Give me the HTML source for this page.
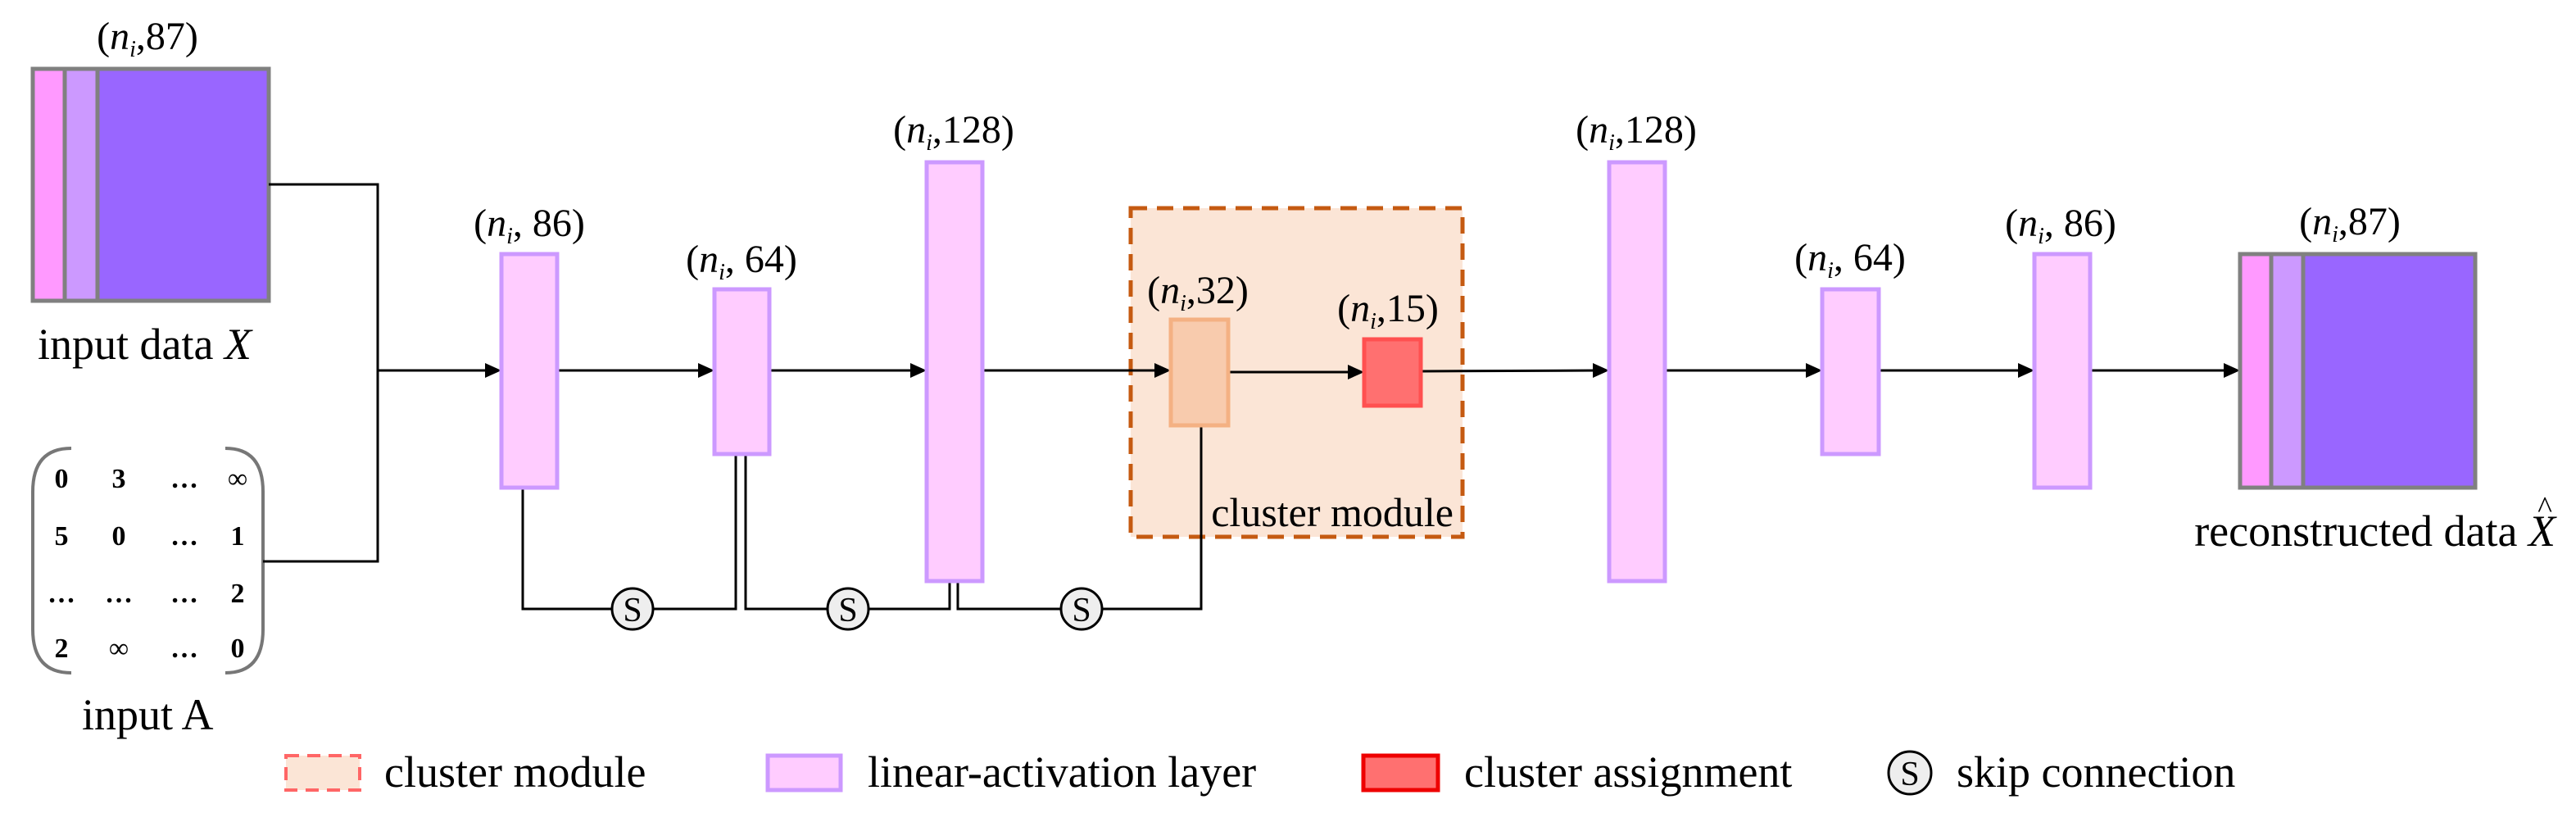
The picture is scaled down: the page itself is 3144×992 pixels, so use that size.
<!DOCTYPE html>
<html><head><meta charset="utf-8"><style>
html,body{margin:0;padding:0;background:#fff;}
svg{display:block;}
text{font-family:"Liberation Serif","DejaVu Serif",serif;fill:#000;}
</style></head><body>
<svg width="3144" height="992" viewBox="0 0 3144 992" xmlns="http://www.w3.org/2000/svg" font-family="Liberation Serif, serif">
<!-- cluster module box -->
<rect x="1380" y="254" width="405" height="401" fill="#fbe5d6" stroke="#c55a11" stroke-width="5" stroke-dasharray="20,12"/>
<text x="1774" y="642" font-size="50" text-anchor="end">cluster  module</text>

<!-- input data -->
<rect x="40" y="84" width="288" height="283" fill="#9966ff" stroke="#808080" stroke-width="5"/>
<rect x="40" y="84" width="39" height="283" fill="#ff99ff" stroke="#808080" stroke-width="5"/>
<rect x="79" y="84" width="40" height="283" fill="#cc99ff" stroke="#808080" stroke-width="5"/>
<text x="46" y="438" font-size="54">input data <tspan font-style="italic">X</tspan></text>

<!-- matrix -->
<path d="M87,547 Q40,547 40,600 L40,768 Q40,821 87,821" fill="none" stroke="#777" stroke-width="4"/>
<path d="M275,547 Q321,547 321,600 L321,768 Q321,821 275,821" fill="none" stroke="#777" stroke-width="4"/>
<g font-size="34" font-weight="bold" text-anchor="middle">
<text x="75" y="595">0</text><text x="145" y="595">3</text><text x="225" y="595">…</text><text x="290" y="595" font-weight="normal">∞</text>
<text x="75" y="665">5</text><text x="145" y="665">0</text><text x="225" y="665">…</text><text x="290" y="665">1</text>
<text x="75" y="735">…</text><text x="145" y="735">…</text><text x="225" y="735">…</text><text x="290" y="735">2</text>
<text x="75" y="802">2</text><text x="145" y="802" font-weight="normal">∞</text><text x="225" y="802">…</text><text x="290" y="802">0</text>
</g>
<text x="100" y="890" font-size="54">input  A</text>

<!-- connectors -->
<g stroke="#000" stroke-width="3" fill="none">
<polyline points="328,225 461,225 461,685 321,685"/>
<line x1="461" y1="452" x2="596" y2="452"/>
<line x1="680" y1="452" x2="858" y2="452"/>
<line x1="939" y1="452" x2="1117" y2="452"/>
<line x1="1199" y1="452" x2="1415" y2="452"/>
<line x1="1499" y1="454" x2="1651" y2="454"/>
<line x1="1734" y1="453" x2="1950" y2="452"/>
<line x1="2032" y1="452" x2="2210" y2="452"/>
<line x1="2293" y1="452" x2="2469" y2="452"/>
<line x1="2551" y1="452" x2="2720" y2="452"/>
<polyline points="638,595 638,743 898,743 898,554"/>
<polyline points="910,554 910,743 1159,743 1159,709"/>
<polyline points="1169,709 1169,743 1466,743 1466,519"/>
</g>
<g fill="#000">
<polygon points="612,452 592,443 592,461"/>
<polygon points="872,452 852,443 852,461"/>
<polygon points="1131,452 1111,443 1111,461"/>
<polygon points="1429,452 1409,443 1409,461"/>
<polygon points="1665,454 1645,445 1645,463"/>
<polygon points="1964,452 1944,443 1944,461"/>
<polygon points="2224,452 2204,443 2204,461"/>
<polygon points="2483,452 2463,443 2463,461"/>
<polygon points="2734,452 2714,443 2714,461"/>
</g>
<g>
<circle cx="772" cy="743" r="25" fill="#eee" stroke="#000" stroke-width="3"/>
<text x="772" y="758" font-size="42" text-anchor="middle">S</text>
<circle cx="1035" cy="743" r="25" fill="#eee" stroke="#000" stroke-width="3"/>
<text x="1035" y="758" font-size="42" text-anchor="middle">S</text>
<circle cx="1320" cy="743" r="25" fill="#eee" stroke="#000" stroke-width="3"/>
<text x="1320" y="758" font-size="42" text-anchor="middle">S</text>
</g>

<!-- layers -->
<g fill="#ffccff" stroke="#cc99ff" stroke-width="5">
<rect x="612" y="310" width="68" height="285"/>
<rect x="872" y="353" width="67" height="201"/>
<rect x="1131" y="198" width="68" height="511"/>
<rect x="1964" y="198" width="68" height="511"/>
<rect x="2224" y="353" width="69" height="201"/>
<rect x="2483" y="310" width="68" height="285"/>
</g>
<rect x="1429" y="390" width="70" height="129" fill="#f8cbad" stroke="#f4b183" stroke-width="5"/>
<rect x="1665" y="414" width="69" height="81" fill="#ff7070" stroke="#ff5050" stroke-width="5"/>

<!-- output -->
<rect x="2734" y="310" width="287" height="285" fill="#9966ff" stroke="#808080" stroke-width="5"/>
<rect x="2734" y="310" width="38" height="285" fill="#ff99ff" stroke="#808080" stroke-width="5"/>
<rect x="2772" y="310" width="39" height="285" fill="#cc99ff" stroke="#808080" stroke-width="5"/>
<text x="3119" y="666" font-size="54" text-anchor="end">reconstructed data  <tspan font-style="italic">X</tspan></text>
<text x="3106" y="632" font-size="38" text-anchor="middle">^</text>

<!-- size labels -->
<g font-size="48" text-anchor="middle">
<text x="180" y="60">(<tspan font-style="italic">n</tspan><tspan font-style="italic" font-size="28" dy="9">i</tspan><tspan dy="-9">,87)</tspan></text>
<text x="646" y="288">(<tspan font-style="italic">n</tspan><tspan font-style="italic" font-size="28" dy="9">i</tspan><tspan dy="-9">, 86)</tspan></text>
<text x="905" y="332">(<tspan font-style="italic">n</tspan><tspan font-style="italic" font-size="28" dy="9">i</tspan><tspan dy="-9">, 64)</tspan></text>
<text x="1164" y="174">(<tspan font-style="italic">n</tspan><tspan font-style="italic" font-size="28" dy="9">i</tspan><tspan dy="-9">,128)</tspan></text>
<text x="1462" y="370">(<tspan font-style="italic">n</tspan><tspan font-style="italic" font-size="28" dy="9">i</tspan><tspan dy="-9">,32)</tspan></text>
<text x="1694" y="392">(<tspan font-style="italic">n</tspan><tspan font-style="italic" font-size="28" dy="9">i</tspan><tspan dy="-9">,15)</tspan></text>
<text x="1997" y="174">(<tspan font-style="italic">n</tspan><tspan font-style="italic" font-size="28" dy="9">i</tspan><tspan dy="-9">,128)</tspan></text>
<text x="2258" y="330">(<tspan font-style="italic">n</tspan><tspan font-style="italic" font-size="28" dy="9">i</tspan><tspan dy="-9">, 64)</tspan></text>
<text x="2515" y="288">(<tspan font-style="italic">n</tspan><tspan font-style="italic" font-size="28" dy="9">i</tspan><tspan dy="-9">, 86)</tspan></text>
<text x="2868" y="286">(<tspan font-style="italic">n</tspan><tspan font-style="italic" font-size="28" dy="9">i</tspan><tspan dy="-9">,87)</tspan></text>
</g>

<!-- legend -->
<rect x="349" y="922" width="90" height="42" fill="#fbe5d6" stroke="#ff6666" stroke-width="4" stroke-dasharray="16,10"/>
<text x="469" y="960" font-size="54">cluster module</text>
<rect x="937" y="922" width="89" height="42" fill="#ffccff" stroke="#cc99ff" stroke-width="5"/>
<text x="1059" y="960" font-size="54">linear-activation layer</text>
<rect x="1664" y="922" width="91" height="42" fill="#ff7070" stroke="#ee0000" stroke-width="5"/>
<text x="1787" y="960" font-size="54">cluster assignment</text>
<circle cx="2331" cy="943" r="26" fill="#eee" stroke="#000" stroke-width="3"/>
<text x="2331" y="958" font-size="42" text-anchor="middle">S</text>
<text x="2388" y="960" font-size="54">skip connection</text>
</svg>
</body></html>
